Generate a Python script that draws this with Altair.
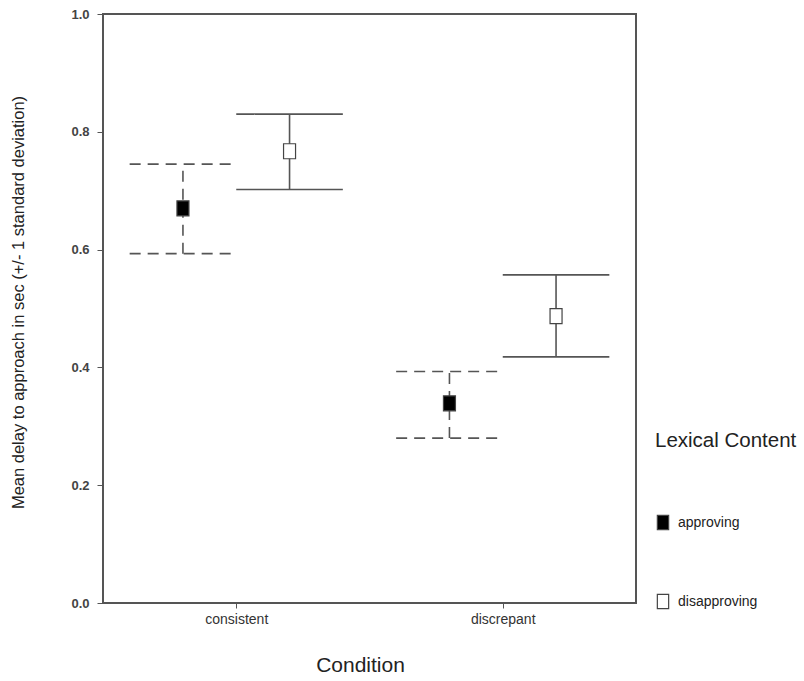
import altair as alt
import pandas as pd

# ---- data ----
conditions = ["consistent", "consistent", "discrepant", "discrepant"]
groups = ["approving", "disapproving", "approving", "disapproving"]
means = [0.670, 0.767, 0.339, 0.487]
upper = [0.745, 0.830, 0.393, 0.557]
lower = [0.593, 0.702, 0.280, 0.418]

condition_order = ["consistent", "discrepant"]
group_order = ["approving", "disapproving"]
y_ticks = [0.0, 0.2, 0.4, 0.6, 0.8, 1.0]

df = pd.DataFrame({
    "condition": conditions,
    "group": groups,
    "mean": means,
    "upper": upper,
    "lower": lower,
})

FONT = "Liberation Sans"
LINE = "#555555"
OFF = 0.2  # dodge of each group from the condition centre (in category units)

cond_list = "[" + ",".join(f"'{c}'" for c in condition_order) + "]"
grp_list = "[" + ",".join(f"'{g}'" for g in group_order) + "]"

base = alt.Chart(df).transform_calculate(
    cond_idx=f"indexof({cond_list}, datum.condition)",
    side=f"indexof({grp_list}, datum.group) * 2 - 1",
).transform_calculate(
    pos=f"datum.cond_idx + datum.side * {OFF}",
).transform_calculate(
    cap_lo=f"datum.pos - {OFF}",
    cap_hi=f"datum.pos + {OFF}",
)

x_scale = alt.Scale(domain=[-0.5, 1.5], nice=False, zero=False)
y_scale = alt.Scale(domain=[0, 1], nice=False)

x_axis = alt.Axis(
    title="Condition", values=list(range(len(condition_order))),
    labelExpr=f"{cond_list}[datum.value]",
    grid=False, domain=False, ticks=True, tickSize=5, tickColor=LINE,
    labelFont=FONT, labelFontSize=14, labelColor="#333333", labelPadding=4,
    titleFont=FONT, titleFontSize=21, titleFontWeight="normal",
    titleColor="#222222", titlePadding=28, titleX=257, titleAlign="center",
)
y_axis = alt.Axis(
    title="Mean delay to approach in sec (+/- 1 standard deviation)",
    values=y_ticks, format=".1f",
    grid=False, domain=False, ticks=True, tickSize=6, tickColor=LINE,
    labelFont=FONT, labelFontSize=13, labelFontWeight="bold",
    labelColor="#444444", labelPadding=8,
    titleFont=FONT, titleFontSize=16.5, titleFontWeight="normal",
    titleColor="#222222", titlePadding=44, titleY=288,
)

# dashed for approving, solid for disapproving (no scale, so no legend merge)
dash = alt.condition(
    f"datum.group == '{group_order[0]}'", alt.value([11, 7]), alt.value([1, 0])
)

vert = base.mark_rule(color=LINE, strokeWidth=1.6).encode(
    x=alt.X("pos:Q", scale=x_scale, axis=x_axis),
    y=alt.Y("lower:Q", scale=y_scale, axis=y_axis),
    y2="upper:Q",
    strokeDash=dash,
)

cap_up = base.mark_rule(color=LINE, strokeWidth=1.7).encode(
    x="cap_lo:Q", x2="cap_hi:Q", y="upper:Q", strokeDash=dash,
)
cap_lo = base.mark_rule(color=LINE, strokeWidth=1.7).encode(
    x="cap_lo:Q", x2="cap_hi:Q", y="lower:Q", strokeDash=dash,
)

rect_shape = "M-0.8,-1L0.8,-1L0.8,1L-0.8,1Z"

points = base.mark_point(
    shape=rect_shape, size=225, filled=True, opacity=1,
    stroke="#444444", strokeWidth=1.2,
).encode(
    x="pos:Q",
    y="mean:Q",
    fill=alt.Fill(
        "group:N",
        scale=alt.Scale(domain=group_order, range=["#000000", "#ffffff"]),
        legend=alt.Legend(
            title="Lexical Content", orient="none",
            legendX=552, legendY=417, padding=0,
            titleFont=FONT, titleFontSize=20.5, titleFontWeight="normal",
            titleColor="#222222", titlePadding=63,
            labelFont=FONT, labelFontSize=14, labelColor="#222222",
            labelOffset=7,
            symbolType=rect_shape, symbolSize=200,
            symbolStrokeColor="#444444", symbolStrokeWidth=1.2,
            rowPadding=59,
        ),
    ),
)

chart = alt.layer(vert, cap_up, cap_lo, points).properties(
    width=533, height=589,
    autosize=alt.AutoSizeParams(type="none"),
    padding={"left": 103, "top": 14, "right": 168, "bottom": 78},
    background="white",
).configure_view(
    stroke=LINE, strokeWidth=2,
)

chart.save("out.html", embed_options={"renderer": "svg", "actions": False})
